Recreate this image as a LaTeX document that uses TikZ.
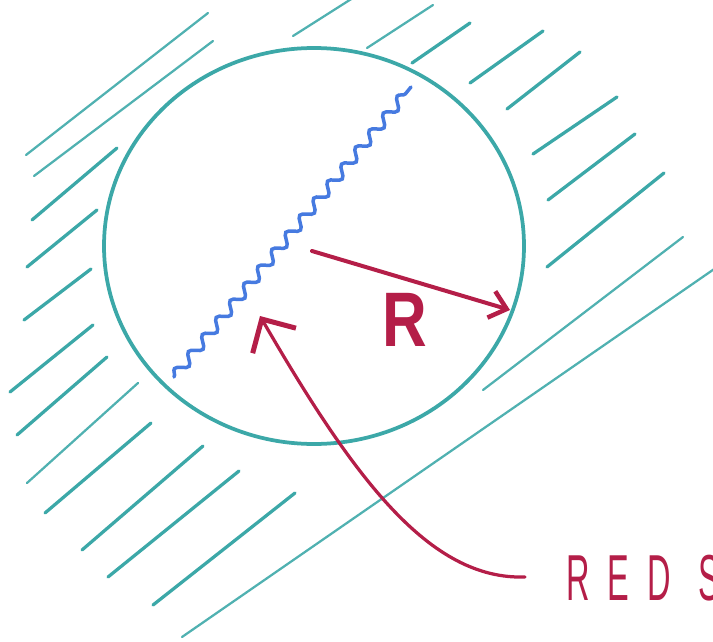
\documentclass[tikz,border=0pt]{standalone}
\usepackage{xcolor}
\usepackage{fontspec}
\setmainfont{Liberation Sans}
\usetikzlibrary{calc}
\usetikzlibrary{positioning,arrows.meta}
\usetikzlibrary{decorations.pathmorphing}
\definecolor{penteal}{RGB}{60,168,168}
\definecolor{penblue}{RGB}{70,122,224}
\definecolor{penred}{RGB}{180,30,72}
\newfontfamily\bigRfont[FakeStretch=0.8]{Liberation Sans}
\newfontfamily\labelfont[FakeStretch=0.5, LetterSpace=28]{Liberation Sans}

\begin{document}
\begin{tikzpicture}[x=0.02cm, y=-0.02cm,
  hatch/.style={penteal, line width=0.065cm, line cap=round},
  thinhatch/.style={penteal!90, line width=0.045cm, line cap=round}]

\useasboundingbox (0,0) rectangle (713,642);

% Hatching lines, upper and left side
\draw[thinhatch] (26,155) -- (208,13);
\draw[thinhatch] (34,176) -- (213,41);
\draw[hatch] (32,220) -- (117,148);
\draw[hatch] (27,267) -- (97,210);
\draw[hatch] (24,320) -- (91,269);
\draw[hatch] (10,392) -- (93,325);
\draw[hatch] (17,435) -- (107,357);
\draw[thinhatch] (27,483) -- (138,383);
\draw[hatch] (45,513) -- (151,423);
\draw[hatch] (82,550) -- (203,446);
\draw[hatch] (108,577) -- (239,471);
\draw[hatch] (153,605) -- (295,493);
\draw[thinhatch] (182,637) -- (720,265);

% Hatching lines, top and right side
\draw[thinhatch] (293,36) -- (356,-4);
\draw[thinhatch] (367,48) -- (433,5);
\draw[hatch] (412,63) -- (470,23);
\draw[hatch] (470,83) -- (543,31);
\draw[hatch] (507,109) -- (580,52);
\draw[hatch] (533,154) -- (617,97);
\draw[hatch] (548,200) -- (635,134);
\draw[hatch] (547,267) -- (664,173);
\draw[thinhatch] (483,390) -- (683,237);

% The hole
\draw[penteal, line width=0.075cm] (314,246) ellipse[x radius=210, y radius=198];

% Wavy cut
\coordinate (cutlow) at (174,377);
\coordinate (cuthigh) at (411,87);
\draw[penblue, line width=0.07cm, line cap=round, decorate,
  decoration={snake, amplitude=0.1cm, segment length=0.44cm}] (cutlow) -- (cuthigh);

% Radius
\coordinate (centre) at (312,251);
\coordinate (rim) at (510,310);
\draw[penred, line width=0.08cm, line cap=round,
  -{Straight Barb[length=0.32cm, width=0.55cm, line width=0.09cm]}] (centre) -- (rim);
\node[text=penred, font={\bigRfont\bfseries\fontsize{44}{44}\selectfont}] (radius) at (405,320) {R};

% Label pointing at the cut
\node[text=penred, anchor=base west, inner sep=0pt,
  font={\labelfont\fontsize{37}{37}\selectfont}] (cutlabel) at (566,600) {RED S};
\coordinate (tail) at (525,577);
\coordinate (tip) at (260,316);
\draw[penred, line width=0.065cm, line cap=round,
  -{Straight Barb[length=0.5cm, width=1cm, line width=0.1cm]}]
  (tail) .. controls (430,580) and (355,480) .. (tip);

\end{tikzpicture}
\end{document}
